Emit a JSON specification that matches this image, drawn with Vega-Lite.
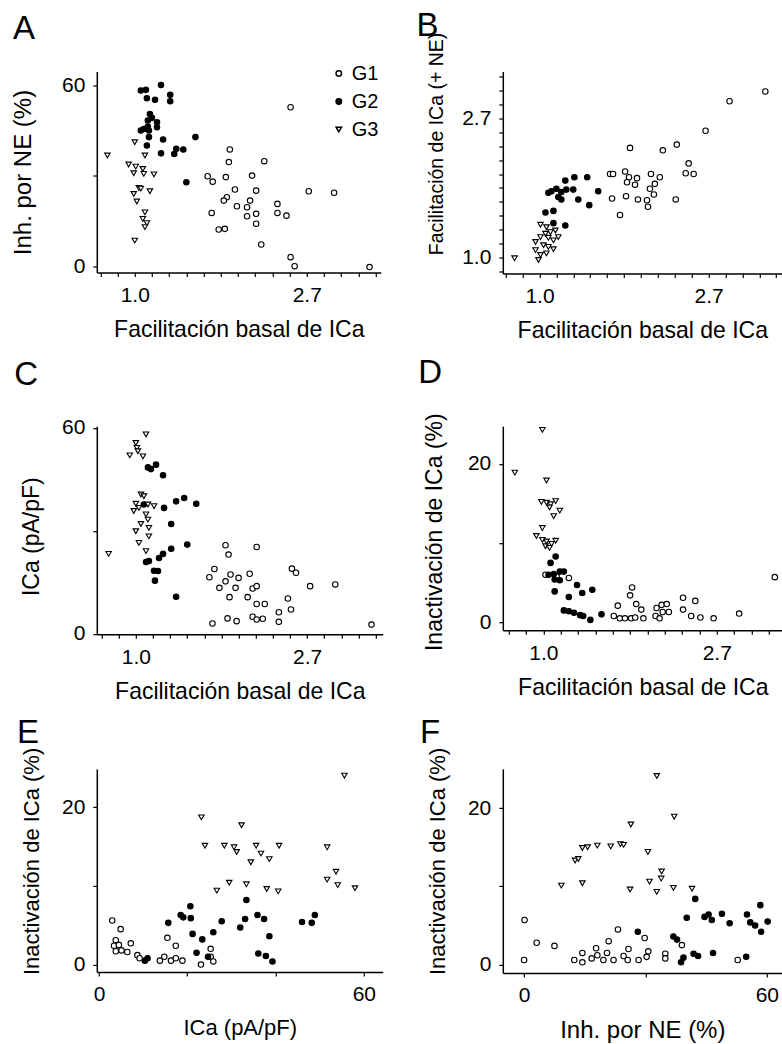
{
  "$schema": "https://vega.github.io/schema/vega-lite/v6.json",
  "padding": {"left": 10.8, "top": 9.5, "right": 0, "bottom": 0},
  "autosize": {"type": "pad"},
  "columns": 2,
  "align": "each",
  "spacing": {"row": 13.7, "column": 33},
  "resolve": {"scale": {"x": "independent", "y": "independent", "shape": "independent", "fill": "independent", "size": "independent"}, "legend": {"shape": "independent", "fill": "independent", "size": "independent"}},
  "config": {
    "font": "Liberation Sans Narrow, Liberation Sans, sans-serif",
    "view": {"stroke": null},
    "axis": {"grid": false, "domainColor": "black", "domainWidth": 1.5, "tickColor": "black", "tickWidth": 1.2, "tickSize": 4, "labelColor": "black", "labelFontSize": 21, "titleFontSize": 23, "titleFontWeight": "normal", "titleColor": "black", "labelPadding": 8, "labelOverlap": false, "labelFlush": false},
    "title": {"orient": "left", "anchor": "end", "frame": "group", "angle": 0, "align": "left", "fontSize": 33, "fontWeight": "normal", "baseline": "alphabetic", "color": "black", "offset": 0},
    "legend": {"labelColor": "black"}
  },
  "datasets": {
    "A": [
      {"g":"G1","x":2.474,"y":52.8},{"g":"G1","x":1.738,"y":38.8},{"g":"G1","x":1.728,"y":34.6},{"g":"G1","x":2.123,"y":34.9},{"g":"G1","x":1.528,"y":29.9},{"g":"G1","x":1.573,"y":28.1},{"g":"G1","x":1.698,"y":29.6},{"g":"G1","x":1.978,"y":30.1},{"g":"G1","x":1.790,"y":25.5},{"g":"G1","x":2.025,"y":25.1},{"g":"G1","x":2.750,"y":24.9},{"g":"G1","x":3.186,"y":24.4},{"g":"G1","x":1.708,"y":22.9},{"g":"G1","x":1.678,"y":21.8},{"g":"G1","x":1.811,"y":19.9},{"g":"G1","x":1.955,"y":21.8},{"g":"G1","x":1.921,"y":19.6},{"g":"G1","x":2.292,"y":20.7},{"g":"G1","x":2.025,"y":17.4},{"g":"G1","x":1.921,"y":16.6},{"g":"G1","x":2.292,"y":17.7},{"g":"G1","x":2.416,"y":16.8},{"g":"G1","x":1.564,"y":17.7},{"g":"G1","x":2.025,"y":14.1},{"g":"G1","x":1.629,"y":12.2},{"g":"G1","x":1.688,"y":12.4},{"g":"G1","x":2.086,"y":7.2},{"g":"G1","x":2.474,"y":3.0},{"g":"G1","x":2.533,"y":0.0},{"g":"G1","x":3.915,"y":-0.3},
      {"g":"G2","x":1.036,"y":58.4},{"g":"G2","x":1.067,"y":58.6},{"g":"G2","x":1.165,"y":60.2},{"g":"G2","x":1.073,"y":55.8},{"g":"G2","x":1.125,"y":55.3},{"g":"G2","x":1.229,"y":57.0},{"g":"G2","x":1.229,"y":54.8},{"g":"G2","x":1.092,"y":50.6},{"g":"G2","x":1.105,"y":49.3},{"g":"G2","x":1.079,"y":48.4},{"g":"G2","x":1.138,"y":47.8},{"g":"G2","x":1.036,"y":45.1},{"g":"G2","x":1.079,"y":46.4},{"g":"G2","x":1.086,"y":45.1},{"g":"G2","x":1.138,"y":46.2},{"g":"G2","x":1.086,"y":42.9},{"g":"G2","x":1.073,"y":40.1},{"g":"G2","x":1.179,"y":42.1},{"g":"G2","x":1.165,"y":37.5},{"g":"G2","x":1.423,"y":42.9},{"g":"G2","x":1.258,"y":37.3},{"g":"G2","x":1.273,"y":39.0},{"g":"G2","x":1.326,"y":38.8},{"g":"G2","x":1.350,"y":27.9},{"g":"G2","x":1.054,"y":45.6},
      {"g":"G3","x":0.853,"y":36.8},{"g":"G3","x":1.000,"y":41.2},{"g":"G3","x":1.061,"y":36.8},{"g":"G3","x":0.965,"y":33.8},{"g":"G3","x":1.006,"y":33.1},{"g":"G3","x":1.048,"y":32.3},{"g":"G3","x":0.994,"y":30.9},{"g":"G3","x":1.054,"y":30.7},{"g":"G3","x":1.118,"y":30.5},{"g":"G3","x":1.024,"y":26.0},{"g":"G3","x":1.092,"y":24.9},{"g":"G3","x":0.994,"y":24.0},{"g":"G3","x":1.012,"y":21.5},{"g":"G3","x":1.061,"y":17.9},{"g":"G3","x":1.048,"y":15.7},{"g":"G3","x":1.073,"y":14.3},{"g":"G3","x":1.061,"y":13.0},{"g":"G3","x":1.000,"y":8.5},{"g":"G3","x":1.036,"y":25.8}
    ],
    "B": [
      {"g":"G1","x":3.801,"y":3.301},{"g":"G1","x":3.076,"y":3.076},{"g":"G1","x":2.670,"y":2.488},{"g":"G1","x":2.252,"y":2.252},{"g":"G1","x":2.074,"y":2.161},{"g":"G1","x":1.708,"y":2.199},{"g":"G1","x":2.416,"y":1.967},{"g":"G1","x":2.374,"y":1.833},{"g":"G1","x":2.488,"y":1.822},{"g":"G1","x":1.518,"y":1.822},{"g":"G1","x":1.545,"y":1.822},{"g":"G1","x":1.659,"y":1.855},{"g":"G1","x":1.698,"y":1.780},{"g":"G1","x":1.780,"y":1.769},{"g":"G1","x":1.678,"y":1.718},{"g":"G1","x":1.759,"y":1.688},{"g":"G1","x":1.933,"y":1.822},{"g":"G1","x":2.037,"y":1.780},{"g":"G1","x":1.978,"y":1.698},{"g":"G1","x":1.921,"y":1.639},{"g":"G1","x":1.967,"y":1.573},{"g":"G1","x":1.536,"y":1.528},{"g":"G1","x":1.668,"y":1.554},{"g":"G1","x":1.790,"y":1.518},{"g":"G1","x":1.888,"y":1.509},{"g":"G1","x":1.899,"y":1.440},{"g":"G1","x":2.238,"y":1.518},{"g":"G1","x":1.610,"y":1.358},
      {"g":"G2","x":1.165,"y":1.738},{"g":"G2","x":1.229,"y":1.780},{"g":"G2","x":1.326,"y":1.780},{"g":"G2","x":1.054,"y":1.592},{"g":"G2","x":1.073,"y":1.610},{"g":"G2","x":1.105,"y":1.639},{"g":"G2","x":1.138,"y":1.601},{"g":"G2","x":1.172,"y":1.629},{"g":"G2","x":1.221,"y":1.629},{"g":"G2","x":1.118,"y":1.545},{"g":"G2","x":1.138,"y":1.518},{"g":"G2","x":1.258,"y":1.518},{"g":"G2","x":1.415,"y":1.610},{"g":"G2","x":1.342,"y":1.457},{"g":"G2","x":1.036,"y":1.382},{"g":"G2","x":1.086,"y":1.398},{"g":"G2","x":1.086,"y":1.280},{"g":"G2","x":1.165,"y":1.258},
      {"g":"G3","x":0.863,"y":0.994},{"g":"G3","x":1.006,"y":1.265},{"g":"G3","x":1.042,"y":1.243},{"g":"G3","x":1.099,"y":1.214},{"g":"G3","x":1.006,"y":1.158},{"g":"G3","x":1.054,"y":1.152},{"g":"G3","x":1.086,"y":1.131},{"g":"G3","x":0.977,"y":1.054},{"g":"G3","x":1.006,"y":1.018},{"g":"G3","x":0.994,"y":0.982},{"g":"G3","x":1.042,"y":1.030},{"g":"G3","x":1.086,"y":1.061},{"g":"G3","x":1.024,"y":1.092},{"g":"G3","x":1.054,"y":1.079},{"g":"G3","x":0.977,"y":1.118},{"g":"G3","x":1.036,"y":1.186},{"g":"G3","x":1.118,"y":1.158},{"g":"G3","x":1.067,"y":1.200}
    ],
    "C": [
      {"g":"G1","x":1.688,"y":25.8},{"g":"G1","x":1.718,"y":23.1},{"g":"G1","x":2.025,"y":25.3},{"g":"G1","x":1.582,"y":18.9},{"g":"G1","x":1.536,"y":16.5},{"g":"G1","x":1.738,"y":17.3},{"g":"G1","x":1.688,"y":15.3},{"g":"G1","x":1.822,"y":16.3},{"g":"G1","x":1.944,"y":17.5},{"g":"G1","x":1.629,"y":13.4},{"g":"G1","x":1.790,"y":13.4},{"g":"G1","x":1.978,"y":13.2},{"g":"G1","x":2.025,"y":13.9},{"g":"G1","x":2.488,"y":19.0},{"g":"G1","x":2.548,"y":17.8},{"g":"G1","x":2.767,"y":13.9},{"g":"G1","x":3.205,"y":14.4},{"g":"G1","x":1.728,"y":10.7},{"g":"G1","x":1.921,"y":10.7},{"g":"G1","x":2.025,"y":8.7},{"g":"G1","x":2.123,"y":8.7},{"g":"G1","x":2.430,"y":10.3},{"g":"G1","x":2.305,"y":6.3},{"g":"G1","x":2.474,"y":7.1},{"g":"G1","x":1.564,"y":3.0},{"g":"G1","x":1.708,"y":4.5},{"g":"G1","x":1.801,"y":3.7},{"g":"G1","x":1.978,"y":5.0},{"g":"G1","x":2.025,"y":4.2},{"g":"G1","x":2.098,"y":4.4},{"g":"G1","x":2.305,"y":3.5},{"g":"G1","x":3.960,"y":2.7},
      {"g":"G2","x":1.073,"y":48.5},{"g":"G2","x":1.125,"y":49.3},{"g":"G2","x":1.172,"y":46.2},{"g":"G2","x":1.048,"y":37.7},{"g":"G2","x":1.179,"y":36.7},{"g":"G2","x":1.265,"y":38.6},{"g":"G2","x":1.326,"y":39.6},{"g":"G2","x":1.423,"y":37.9},{"g":"G2","x":1.229,"y":32.0},{"g":"G2","x":1.350,"y":26.0},{"g":"G2","x":1.229,"y":24.8},{"g":"G2","x":1.172,"y":23.3},{"g":"G2","x":1.145,"y":22.1},{"g":"G2","x":1.061,"y":20.9},{"g":"G2","x":1.079,"y":21.2},{"g":"G2","x":1.112,"y":18.4},{"g":"G2","x":1.138,"y":18.3},{"g":"G2","x":1.118,"y":15.5},{"g":"G2","x":1.265,"y":10.8},{"g":"G2","x":1.092,"y":48.0},
      {"g":"G3","x":1.061,"y":58.1},{"g":"G3","x":1.000,"y":55.6},{"g":"G3","x":1.006,"y":54.2},{"g":"G3","x":0.965,"y":52.0},{"g":"G3","x":1.042,"y":51.7},{"g":"G3","x":1.012,"y":53.2},{"g":"G3","x":0.853,"y":23.3},{"g":"G3","x":1.030,"y":40.6},{"g":"G3","x":1.048,"y":40.1},{"g":"G3","x":1.000,"y":37.9},{"g":"G3","x":1.073,"y":37.7},{"g":"G3","x":1.112,"y":37.2},{"g":"G3","x":1.018,"y":36.7},{"g":"G3","x":0.988,"y":35.8},{"g":"G3","x":1.061,"y":34.8},{"g":"G3","x":1.073,"y":33.3},{"g":"G3","x":1.030,"y":32.0},{"g":"G3","x":1.000,"y":29.9},{"g":"G3","x":1.079,"y":30.9},{"g":"G3","x":1.079,"y":28.4},{"g":"G3","x":1.018,"y":26.5},{"g":"G3","x":1.061,"y":24.1}
    ],
    "D": [
      {"g":"G1","x":3.801,"y":5.7},{"g":"G1","x":1.668,"y":4.4},{"g":"G1","x":1.649,"y":3.4},{"g":"G1","x":1.536,"y":2.1},{"g":"G1","x":1.708,"y":2.3},{"g":"G1","x":1.759,"y":1.6},{"g":"G1","x":1.501,"y":0.8},{"g":"G1","x":1.554,"y":0.5},{"g":"G1","x":1.601,"y":0.5},{"g":"G1","x":1.659,"y":0.5},{"g":"G1","x":1.698,"y":0.6},{"g":"G1","x":1.780,"y":0.5},{"g":"G1","x":1.921,"y":1.8},{"g":"G1","x":1.978,"y":2.2},{"g":"G1","x":2.037,"y":2.3},{"g":"G1","x":1.910,"y":0.8},{"g":"G1","x":1.955,"y":0.5},{"g":"G1","x":2.062,"y":1.3},{"g":"G1","x":2.238,"y":3.1},{"g":"G1","x":2.238,"y":1.6},{"g":"G1","x":2.402,"y":2.7},{"g":"G1","x":2.346,"y":0.8},{"g":"G1","x":2.474,"y":0.6},{"g":"G1","x":2.670,"y":0.5},{"g":"G1","x":3.094,"y":1.1},{"g":"G1","x":1.990,"y":1.3},{"g":"G1","x":1.012,"y":6.0},{"g":"G1","x":1.079,"y":5.8},{"g":"G1","x":1.158,"y":5.6},
      {"g":"G2","x":1.073,"y":8.3},{"g":"G2","x":1.042,"y":7.5},{"g":"G2","x":1.030,"y":6.0},{"g":"G2","x":1.061,"y":6.1},{"g":"G2","x":1.099,"y":6.4},{"g":"G2","x":1.125,"y":6.4},{"g":"G2","x":1.067,"y":5.4},{"g":"G2","x":1.099,"y":5.3},{"g":"G2","x":1.067,"y":3.9},{"g":"G2","x":1.158,"y":3.2},{"g":"G2","x":1.214,"y":4.7},{"g":"G2","x":1.251,"y":3.7},{"g":"G2","x":1.326,"y":4.1},{"g":"G2","x":1.125,"y":1.5},{"g":"G2","x":1.158,"y":1.4},{"g":"G2","x":1.193,"y":1.2},{"g":"G2","x":1.236,"y":0.9},{"g":"G2","x":1.258,"y":0.8},{"g":"G2","x":1.311,"y":0.3},{"g":"G2","x":1.398,"y":1.0},
      {"g":"G3","x":0.994,"y":24.3},{"g":"G3","x":0.848,"y":18.9},{"g":"G3","x":1.018,"y":17.9},{"g":"G3","x":0.988,"y":15.2},{"g":"G3","x":1.018,"y":15.1},{"g":"G3","x":1.042,"y":14.9},{"g":"G3","x":1.073,"y":15.3},{"g":"G3","x":1.099,"y":14.1},{"g":"G3","x":1.061,"y":13.4},{"g":"G3","x":1.036,"y":14.5},{"g":"G3","x":0.994,"y":11.9},{"g":"G3","x":0.960,"y":10.9},{"g":"G3","x":0.994,"y":10.4},{"g":"G3","x":1.012,"y":9.6},{"g":"G3","x":1.036,"y":9.4},{"g":"G3","x":1.073,"y":10.3},{"g":"G3","x":1.048,"y":9.9},{"g":"G3","x":1.018,"y":10.2}
    ],
    "E": [
      {"g":"G1","x":3.0,"y":5.6},{"g":"G1","x":4.9,"y":4.5},{"g":"G1","x":3.8,"y":3.1},{"g":"G1","x":3.4,"y":2.4},{"g":"G1","x":4.5,"y":2.5},{"g":"G1","x":3.8,"y":1.7},{"g":"G1","x":5.1,"y":1.8},{"g":"G1","x":6.4,"y":1.6},{"g":"G1","x":7.2,"y":2.7},{"g":"G1","x":8.7,"y":1.2},{"g":"G1","x":9.2,"y":0.8},{"g":"G1","x":13.8,"y":0.5},{"g":"G1","x":14.8,"y":1.0},{"g":"G1","x":16.3,"y":0.5},{"g":"G1","x":17.4,"y":0.8},{"g":"G1","x":18.9,"y":0.5},{"g":"G1","x":15.5,"y":3.4},{"g":"G1","x":17.4,"y":2.4},{"g":"G1","x":23.1,"y":0.0},{"g":"G1","x":25.3,"y":2.0},{"g":"G1","x":25.3,"y":1.0},{"g":"G1","x":25.9,"y":0.4},
      {"g":"G2","x":20.7,"y":7.4},{"g":"G2","x":33.4,"y":8.2},{"g":"G2","x":18.5,"y":6.3},{"g":"G2","x":19.1,"y":6.0},{"g":"G2","x":20.8,"y":5.9},{"g":"G2","x":15.7,"y":5.3},{"g":"G2","x":27.8,"y":5.5},{"g":"G2","x":33.1,"y":5.8},{"g":"G2","x":35.9,"y":6.3},{"g":"G2","x":37.4,"y":5.8},{"g":"G2","x":46.0,"y":5.4},{"g":"G2","x":48.2,"y":5.3},{"g":"G2","x":48.9,"y":6.3},{"g":"G2","x":21.2,"y":3.9},{"g":"G2","x":25.9,"y":4.1},{"g":"G2","x":32.0,"y":4.7},{"g":"G2","x":38.6,"y":3.6},{"g":"G2","x":23.4,"y":3.2},{"g":"G2","x":22.1,"y":1.5},{"g":"G2","x":24.7,"y":1.0},{"g":"G2","x":36.1,"y":1.4},{"g":"G2","x":37.8,"y":1.1},{"g":"G2","x":39.3,"y":0.4},{"g":"G2","x":11.0,"y":0.8},{"g":"G2","x":10.4,"y":0.5},
      {"g":"G3","x":55.6,"y":24.0},{"g":"G3","x":23.2,"y":18.7},{"g":"G3","x":32.3,"y":17.7},{"g":"G3","x":24.0,"y":15.1},{"g":"G3","x":28.4,"y":15.1},{"g":"G3","x":30.6,"y":14.9},{"g":"G3","x":31.2,"y":14.3},{"g":"G3","x":35.6,"y":15.1},{"g":"G3","x":36.7,"y":14.1},{"g":"G3","x":38.6,"y":13.4},{"g":"G3","x":34.4,"y":13.0},{"g":"G3","x":40.8,"y":15.1},{"g":"G3","x":51.7,"y":14.9},{"g":"G3","x":53.7,"y":11.8},{"g":"G3","x":51.7,"y":10.8},{"g":"G3","x":54.1,"y":10.1},{"g":"G3","x":58.0,"y":9.7},{"g":"G3","x":29.5,"y":10.4},{"g":"G3","x":33.4,"y":10.2},{"g":"G3","x":38.0,"y":9.6},{"g":"G3","x":40.6,"y":9.3},{"g":"G3","x":26.7,"y":9.4}
    ],
    "F": [
      {"g":"G1","x":0.1,"y":5.7},{"g":"G1","x":3.1,"y":2.8},{"g":"G1","x":7.5,"y":2.4},{"g":"G1","x":0.0,"y":0.6},{"g":"G1","x":12.4,"y":0.6},{"g":"G1","x":14.4,"y":0.3},{"g":"G1","x":14.4,"y":1.5},{"g":"G1","x":16.7,"y":0.8},{"g":"G1","x":17.8,"y":2.1},{"g":"G1","x":18.1,"y":1.2},{"g":"G1","x":19.6,"y":0.6},{"g":"G1","x":20.5,"y":1.5},{"g":"G1","x":20.9,"y":3.0},{"g":"G1","x":22.1,"y":0.6},{"g":"G1","x":23.2,"y":4.5},{"g":"G1","x":24.6,"y":1.1},{"g":"G1","x":25.8,"y":2.0},{"g":"G1","x":25.6,"y":0.6},{"g":"G1","x":28.3,"y":0.6},{"g":"G1","x":29.8,"y":3.4},{"g":"G1","x":30.3,"y":1.0},{"g":"G1","x":30.7,"y":1.7},{"g":"G1","x":34.9,"y":1.4},{"g":"G1","x":34.9,"y":0.8},{"g":"G1","x":39.0,"y":2.5},{"g":"G1","x":52.8,"y":0.6},
      {"g":"G2","x":42.3,"y":8.4},{"g":"G2","x":58.4,"y":7.6},{"g":"G2","x":40.2,"y":6.0},{"g":"G2","x":44.6,"y":6.1},{"g":"G2","x":45.6,"y":6.4},{"g":"G2","x":46.4,"y":5.7},{"g":"G2","x":48.9,"y":6.5},{"g":"G2","x":50.8,"y":5.3},{"g":"G2","x":55.1,"y":6.4},{"g":"G2","x":55.9,"y":5.4},{"g":"G2","x":57.1,"y":5.0},{"g":"G2","x":58.6,"y":4.2},{"g":"G2","x":60.2,"y":5.5},{"g":"G2","x":28.1,"y":4.2},{"g":"G2","x":36.9,"y":3.6},{"g":"G2","x":37.8,"y":3.2},{"g":"G2","x":41.9,"y":1.4},{"g":"G2","x":43.0,"y":1.1},{"g":"G2","x":46.7,"y":1.5},{"g":"G2","x":39.4,"y":0.9},{"g":"G2","x":38.8,"y":0.3},{"g":"G2","x":54.9,"y":1.0},
      {"g":"G3","x":32.8,"y":24.1},{"g":"G3","x":37.1,"y":18.9},{"g":"G3","x":26.4,"y":17.9},{"g":"G3","x":14.4,"y":14.9},{"g":"G3","x":15.7,"y":15.0},{"g":"G3","x":18.1,"y":15.2},{"g":"G3","x":21.4,"y":15.1},{"g":"G3","x":23.8,"y":15.4},{"g":"G3","x":24.6,"y":15.3},{"g":"G3","x":30.6,"y":14.4},{"g":"G3","x":12.6,"y":13.3},{"g":"G3","x":13.4,"y":13.5},{"g":"G3","x":34.0,"y":11.9},{"g":"G3","x":33.9,"y":11.0},{"g":"G3","x":31.0,"y":10.6},{"g":"G3","x":9.2,"y":10.1},{"g":"G3","x":14.4,"y":10.4},{"g":"G3","x":26.2,"y":9.6},{"g":"G3","x":32.8,"y":9.3},{"g":"G3","x":36.9,"y":9.8},{"g":"G3","x":41.5,"y":9.7}
    ]
  },
  "concat": [
    {
      "width": 284, "height": 201,
      "data": {"name": "A"},
      "title": {"text": "A", "dx": 49.2, "dy": -58.5},
      "mark": {"type": "point", "filled": true, "stroke": "black", "strokeWidth": 1.1, "opacity": 1},
      "encoding": {
        "x": {"field": "x", "type": "quantitative", "scale": {"type": "log", "base": 2.718281828, "domain": [0.802, 4.18], "nice": false},
              "axis": {"title": "Facilitación basal de ICa", "values": [0.8187,0.9048,1,1.1052,1.2214,1.3499,1.4918,1.6487,1.8221,2.0138,2.2255,2.4596,2.7183,3.0042,3.3201,3.6693,4.0552], "labelExpr": "datum.value == 1 ? '1.0' : (abs(datum.value - 2.7183) < 0.001 ? '2.7' : '')", "titleY": 46}},
        "y": {"field": "y", "type": "quantitative", "scale": {"domain": [-2.1, 64.7], "nice": false, "zero": false},
              "axis": {"title": "Inh. por NE (%)", "titleFontSize": 24, "values": [0, 30, 60], "labelExpr": "datum.value == 30 ? '' : datum.label", "titleX": -61, "titleY": 100.5}},
        "size": {"field": "g", "type": "nominal", "scale": {"domain": ["G1","G2","G3"], "range": [30, 30, 44]},
                 "legend": {"orient": "none", "legendX": 232, "legendY": -8, "title": null, "labelFontSize": 20, "rowPadding": 8, "labelOffset": 3, "padding": 0, "encode": {"symbols": {"update": {"stroke": {"value": "black"}, "strokeWidth": {"value": 1.2}}}}}},
        "shape": {"field": "g", "type": "nominal", "scale": {"domain": ["G1","G2","G3"], "range": ["circle","circle","triangle-down"]},
                  "legend": {"orient": "none", "legendX": 232, "legendY": -8, "title": null, "labelFontSize": 20, "rowPadding": 8, "labelOffset": 3, "padding": 0, "encode": {"symbols": {"update": {"stroke": {"value": "black"}, "strokeWidth": {"value": 1.2}}}}}},
        "fill": {"field": "g", "type": "nominal", "scale": {"domain": ["G1","G2","G3"], "range": ["white","black","white"]},
                 "legend": {"orient": "none", "legendX": 232, "legendY": -8, "title": null, "labelFontSize": 20, "rowPadding": 8, "labelOffset": 3, "padding": 0, "encode": {"symbols": {"update": {"stroke": {"value": "black"}, "strokeWidth": {"value": 1.2}}}}}}
      }
    },
    {
      "width": 279, "height": 202,
      "data": {"name": "B"},
      "title": {"text": "B", "dx": 37.7, "dy": -61.5},
      "mark": {"type": "point", "filled": true, "stroke": "black", "strokeWidth": 1.1, "opacity": 1},
      "encoding": {
        "x": {"field": "x", "type": "quantitative", "scale": {"type": "log", "base": 2.718281828, "domain": [0.805, 4.19], "nice": false},
              "axis": {"title": "Facilitación basal de ICa", "values": [0.8187,0.9048,1,1.1052,1.2214,1.3499,1.4918,1.6487,1.8221,2.0138,2.2255,2.4596,2.7183,3.0042,3.3201,3.6693,4.0552], "labelExpr": "datum.value == 1 ? '1.0' : (abs(datum.value - 2.7183) < 0.001 ? '2.7' : '')", "titleY": 46}},
        "y": {"field": "y", "type": "quantitative", "scale": {"type": "log", "base": 2.718281828, "domain": [0.891, 3.81], "nice": false},
              "axis": {"title": "Facilitación de ICa (+ NE)", "titleFontSize": 19.5, "values": [0.9048,1,1.1052,1.2214,1.3499,1.4918,1.6487,1.8221,2.0138,2.2255,2.4596,2.7183,3.0042,3.3201,3.6693], "labelExpr": "datum.value == 1 ? '1.0' : (abs(datum.value - 2.7183) < 0.001 ? '2.7' : '')", "titleX": -56, "titleY": 72}},
        "size": {"field": "g", "type": "nominal", "scale": {"domain": ["G1","G2","G3"], "range": [30, 30, 44]}, "legend": null},
        "shape": {"field": "g", "type": "nominal", "scale": {"domain": ["G1","G2","G3"], "range": ["circle","circle","triangle-down"]}, "legend": null},
        "fill": {"field": "g", "type": "nominal", "scale": {"domain": ["G1","G2","G3"], "range": ["white","black","white"]}, "legend": null}
      }
    },
    {
      "width": 286, "height": 208,
      "data": {"name": "C"},
      "title": {"text": "C", "dx": 45, "dy": -67.5},
      "mark": {"type": "point", "filled": true, "stroke": "black", "strokeWidth": 1.1, "opacity": 1},
      "encoding": {
        "x": {"field": "x", "type": "quantitative", "scale": {"type": "log", "base": 2.718281828, "domain": [0.796, 4.23], "nice": false},
              "axis": {"title": "Facilitación basal de ICa", "values": [0.8187,0.9048,1,1.1052,1.2214,1.3499,1.4918,1.6487,1.8221,2.0138,2.2255,2.4596,2.7183,3.0042,3.3201,3.6693,4.0552], "labelExpr": "datum.value == 1 ? '1.0' : (abs(datum.value - 2.7183) < 0.001 ? '2.7' : '')", "titleY": 46}},
        "y": {"field": "y", "type": "quantitative", "scale": {"domain": [-0.1, 60.5], "nice": false, "zero": false},
              "axis": {"title": "ICa (pA/pF)", "values": [0, 30, 60], "labelExpr": "datum.value == 30 ? '' : datum.label", "titleX": -53, "titleY": 110}},
        "size": {"field": "g", "type": "nominal", "scale": {"domain": ["G1","G2","G3"], "range": [30, 30, 44]}, "legend": null},
        "shape": {"field": "g", "type": "nominal", "scale": {"domain": ["G1","G2","G3"], "range": ["circle","circle","triangle-down"]}, "legend": null},
        "fill": {"field": "g", "type": "nominal", "scale": {"domain": ["G1","G2","G3"], "range": ["white","black","white"]}, "legend": null}
      }
    },
    {
      "width": 280, "height": 204,
      "data": {"name": "D"},
      "title": {"text": "D", "dx": 46, "dy": -69.5},
      "mark": {"type": "point", "filled": true, "stroke": "black", "strokeWidth": 1.1, "opacity": 1},
      "encoding": {
        "x": {"field": "x", "type": "quantitative", "scale": {"type": "log", "base": 2.718281828, "domain": [0.791, 3.98], "nice": false},
              "axis": {"title": "Facilitación basal de ICa", "values": [0.8187,0.9048,1,1.1052,1.2214,1.3499,1.4918,1.6487,1.8221,2.0138,2.2255,2.4596,2.7183,3.0042,3.3201,3.6693], "labelExpr": "datum.value == 1 ? '1.0' : (abs(datum.value - 2.7183) < 0.001 ? '2.7' : '')", "titleY": 46}},
        "y": {"field": "y", "type": "quantitative", "scale": {"domain": [-1.0, 24.76], "nice": false, "zero": false},
              "axis": {"title": "Inactivación de ICa (%)", "values": [0, 10, 20], "labelExpr": "datum.value == 10 ? '' : datum.label", "titleX": -56, "titleY": 105.5}},
        "size": {"field": "g", "type": "nominal", "scale": {"domain": ["G1","G2","G3"], "range": [30, 30, 44]}, "legend": null},
        "shape": {"field": "g", "type": "nominal", "scale": {"domain": ["G1","G2","G3"], "range": ["circle","circle","triangle-down"]}, "legend": null},
        "fill": {"field": "g", "type": "nominal", "scale": {"domain": ["G1","G2","G3"], "range": ["white","black","white"]}, "legend": null}
      }
    },
    {
      "width": 286, "height": 203,
      "data": {"name": "E"},
      "title": {"text": "E", "dx": 44.2, "dy": -51.5},
      "mark": {"type": "point", "filled": true, "stroke": "black", "strokeWidth": 1.1, "opacity": 1},
      "encoding": {
        "x": {"field": "x", "type": "quantitative", "scale": {"domain": [-0.5, 64.3], "nice": false, "zero": false},
              "axis": {"title": "ICa (pA/pF)", "titleFontSize": 22, "values": [0, 20, 40, 60], "labelExpr": "(datum.value == 0 || datum.value == 60) ? datum.label : ''", "titleY": 46}},
        "y": {"field": "y", "type": "quantitative", "scale": {"domain": [-0.93, 24.86], "nice": false, "zero": false},
              "axis": {"title": "Inactivación de ICa (%)", "titleFontSize": 22, "values": [0, 10, 20], "labelExpr": "datum.value == 10 ? '' : datum.label", "titleX": -53, "titleY": 92}},
        "size": {"field": "g", "type": "nominal", "scale": {"domain": ["G1","G2","G3"], "range": [30, 30, 44]}, "legend": null},
        "shape": {"field": "g", "type": "nominal", "scale": {"domain": ["G1","G2","G3"], "range": ["circle","circle","triangle-down"]}, "legend": null},
        "fill": {"field": "g", "type": "nominal", "scale": {"domain": ["G1","G2","G3"], "range": ["white","black","white"]}, "legend": null}
      }
    },
    {
      "width": 279, "height": 204,
      "data": {"name": "F"},
      "title": {"text": "F", "dx": 37.4, "dy": -51.5},
      "mark": {"type": "point", "filled": true, "stroke": "black", "strokeWidth": 1.1, "opacity": 1},
      "encoding": {
        "x": {"field": "x", "type": "quantitative", "scale": {"domain": [-5.27, 63.7], "nice": false, "zero": false},
              "axis": {"title": "Inh. por NE (%)", "titleFontSize": 24, "values": [0, 30, 60], "labelExpr": "datum.value == 30 ? '' : datum.label", "titleY": 46}},
        "y": {"field": "y", "type": "quantitative", "scale": {"domain": [-1.05, 25.0], "nice": false, "zero": false},
              "axis": {"title": "Inactivación de ICa (%)", "titleFontSize": 22, "values": [0, 10, 20], "labelExpr": "datum.value == 10 ? '' : datum.label", "titleX": -53, "titleY": 92}},
        "size": {"field": "g", "type": "nominal", "scale": {"domain": ["G1","G2","G3"], "range": [30, 30, 44]}, "legend": null},
        "shape": {"field": "g", "type": "nominal", "scale": {"domain": ["G1","G2","G3"], "range": ["circle","circle","triangle-down"]}, "legend": null},
        "fill": {"field": "g", "type": "nominal", "scale": {"domain": ["G1","G2","G3"], "range": ["white","black","white"]}, "legend": null}
      }
    }
  ]
}
